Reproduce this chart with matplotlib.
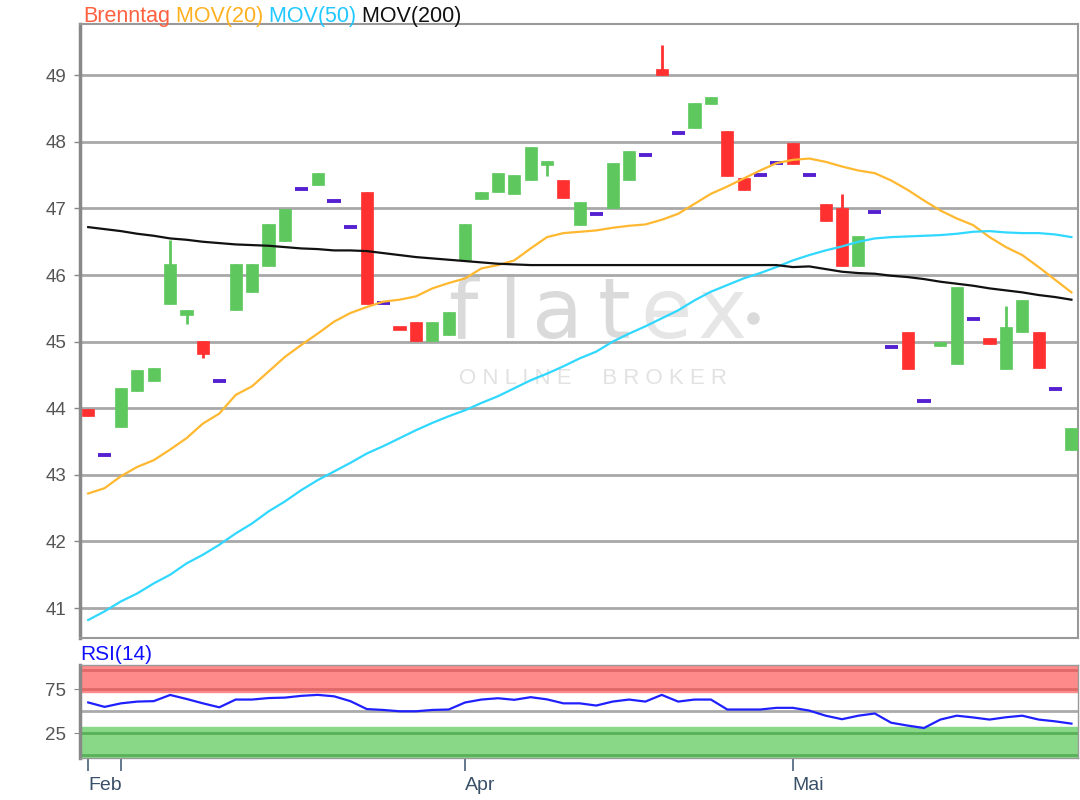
import matplotlib
matplotlib.use("Agg")
import matplotlib.pyplot as plt
import numpy as np

# ---------------- data ----------------
opens  = [43.99, 43.30, 43.72, 44.26, 44.41, 45.57, 45.40, 45.01, 44.41, 45.48,
          45.75, 46.14, 46.51, 47.29, 47.35, 47.11, 46.72, 47.24, 45.58, 45.22,
          45.29, 45.01, 45.10, 46.22, 47.14, 47.25, 47.22, 47.43, 47.69, 47.42,
          46.75, 46.91, 47.00, 47.43, 47.80, 49.10, 48.13, 48.21, 48.57, 48.17,
          47.45, 47.51, 47.68, 47.98, 47.51, 47.06, 47.00, 46.14, 46.94, 44.92,
          45.14, 44.11, 44.94, 44.67, 45.34, 45.05, 44.59, 45.15, 45.14, 44.29,
          43.38]
highs  = [43.99, 43.30, 44.30, 44.57, 44.60, 46.52, 45.47, 45.01, 44.41, 46.16,
          46.16, 46.76, 46.99, 47.29, 47.54, 47.11, 46.72, 47.24, 45.58, 45.22,
          45.29, 45.29, 45.44, 46.76, 47.24, 47.54, 47.51, 47.93, 47.72, 47.42,
          47.09, 46.91, 47.69, 47.87, 47.80, 49.46, 48.13, 48.59, 48.68, 48.17,
          47.45, 47.51, 47.68, 47.98, 47.51, 47.06, 47.21, 46.58, 46.94, 44.92,
          45.14, 44.11, 45.00, 45.82, 45.34, 45.05, 45.53, 45.62, 45.14, 44.29,
          43.70]
lows   = [43.89, 43.30, 43.72, 44.26, 44.41, 45.57, 45.27, 44.76, 44.41, 45.48,
          45.75, 46.14, 46.51, 47.29, 47.35, 47.11, 46.72, 45.57, 45.58, 45.20,
          45.01, 45.01, 45.10, 46.22, 47.14, 47.25, 47.22, 47.43, 47.49, 47.16,
          46.75, 46.91, 47.00, 47.43, 47.80, 49.00, 48.13, 48.21, 48.57, 47.49,
          47.28, 47.51, 47.68, 47.67, 47.51, 46.81, 46.14, 46.14, 46.94, 44.92,
          44.59, 44.11, 44.94, 44.67, 45.34, 44.97, 44.59, 45.15, 44.61, 44.29,
          43.38]
closes = [43.89, 43.30, 44.30, 44.57, 44.60, 46.16, 45.47, 44.82, 44.41, 46.16,
          46.16, 46.76, 46.99, 47.29, 47.54, 47.11, 46.72, 45.57, 45.58, 45.20,
          45.01, 45.29, 45.44, 46.76, 47.24, 47.54, 47.51, 47.93, 47.72, 47.16,
          47.09, 46.91, 47.69, 47.87, 47.80, 49.00, 48.13, 48.59, 48.68, 47.49,
          47.28, 47.51, 47.68, 47.67, 47.51, 46.81, 46.14, 46.58, 46.94, 44.92,
          44.59, 44.11, 45.00, 45.82, 45.34, 44.97, 45.22, 45.62, 44.61, 44.29,
          43.70]

mov20 = [42.72, 42.80, 42.98, 43.12, 43.22, 43.38, 43.55, 43.77, 43.92, 44.20,
         44.33, 44.55, 44.77, 44.95, 45.12, 45.30, 45.43, 45.52, 45.60, 45.63,
         45.68, 45.80, 45.88, 45.95, 46.10, 46.15, 46.22, 46.40, 46.57, 46.63,
         46.65, 46.67, 46.71, 46.74, 46.76, 46.83, 46.92, 47.07, 47.22, 47.33,
         47.45, 47.57, 47.68, 47.73, 47.75, 47.70, 47.63, 47.57, 47.53, 47.42,
         47.28, 47.12, 46.97, 46.85, 46.75, 46.57, 46.42, 46.30, 46.12, 45.93,
         45.74]
mov50 = [40.82, 40.95, 41.10, 41.22, 41.37, 41.50, 41.67, 41.80, 41.95, 42.12,
         42.27, 42.45, 42.60, 42.77, 42.92, 43.05, 43.18, 43.32, 43.43, 43.55,
         43.67, 43.78, 43.88, 43.97, 44.08, 44.18, 44.30, 44.42, 44.52, 44.63,
         44.75, 44.85, 45.00, 45.12, 45.23, 45.35, 45.47, 45.62, 45.75, 45.85,
         45.95, 46.03, 46.12, 46.22, 46.30, 46.37, 46.43, 46.50, 46.55, 46.57,
         46.58, 46.59, 46.60, 46.62, 46.65, 46.66, 46.64, 46.63, 46.63, 46.61,
         46.57]
mov200 = [46.72, 46.69, 46.66, 46.62, 46.59, 46.55, 46.53, 46.50, 46.48, 46.46,
          46.45, 46.44, 46.42, 46.40, 46.39, 46.37, 46.37, 46.36, 46.33, 46.30,
          46.27, 46.25, 46.23, 46.21, 46.19, 46.17, 46.16, 46.15, 46.15, 46.15,
          46.15, 46.15, 46.15, 46.15, 46.15, 46.15, 46.15, 46.15, 46.15, 46.15,
          46.15, 46.15, 46.15, 46.12, 46.13, 46.09, 46.05, 46.03, 46.02, 45.99,
          45.97, 45.94, 45.90, 45.87, 45.84, 45.80, 45.77, 45.74, 45.70, 45.67,
          45.63]
rsi = [60.0, 55.0, 59.0, 61.0, 61.5, 68.5, 64.0, 59.0, 54.5, 63.3,
       63.3, 65.0, 65.5, 67.5, 68.6, 67.0, 61.5, 52.5, 51.5, 50.0,
       50.0, 51.5, 52.0, 60.0, 63.3, 64.8, 63.0, 66.0, 63.5, 59.0,
       59.0, 56.5, 61.0, 63.3, 61.0, 68.6, 61.0, 63.3, 63.3, 52.0,
       52.0, 52.0, 53.9, 53.9, 50.8, 45.0, 41.0, 45.0, 47.5, 37.0,
       33.8, 31.0, 40.6, 45.0, 43.0, 40.6, 43.2, 45.0, 40.6, 38.6,
       36.0]

price_ticks = [41, 42, 43, 44, 45, 46, 47, 48, 49]
rsi_ticks = [25, 75]
month_tick_pos = [0, 2, 23, 43]
month_tick_labels = ["Feb", "", "Apr", "Mai"]

# ---------------- figure ----------------
plt.rcParams['font.family'] = ['Liberation Sans', 'DejaVu Sans']
fig = plt.figure(figsize=(10.8, 8.0), dpi=100)
fig.patch.set_facecolor('white')

ax = fig.add_axes([80/1080, 1-638/800, 998/1080, 614/800])
axr = fig.add_axes([80/1080, 1-758/800, 998/1080, 93/800])

n = len(opens)
x = np.arange(n)
GREEN = '#5ec85e'
RED = '#ff3030'
PURPLE = '#5520d0'
w = 0.74

for i in range(n):
    o, h, l, c = opens[i], highs[i], lows[i], closes[i]
    if o == h == l == c:
        ax.plot([i - 0.4, i + 0.4], [o, o], color=PURPLE, lw=2.8,
                solid_capstyle='butt', zorder=4)
        continue
    col = GREEN if c >= o else RED
    lo_b, hi_b = min(o, c), max(o, c)
    ax.plot([i, i], [l, h], color=col, lw=2, zorder=3, solid_capstyle='butt')
    ax.bar(i, max(hi_b - lo_b, 0.06), bottom=lo_b if hi_b - lo_b >= 0.06 else lo_b - 0.03,
           width=w, color=col, edgecolor=col, linewidth=0.5, zorder=4)

ax.plot(x, mov20, color='#ffb830', lw=1.6, zorder=5)
ax.plot(x, mov50, color='#30d8ff', lw=1.6, zorder=5)
ax.plot(x, mov200, color='#111111', lw=1.6, zorder=5)

ax.set_xlim(-0.5, 60.4)
ax.set_ylim(40.55, 49.77)
ax.set_yticks(price_ticks)
ax.set_yticklabels([str(t) for t in price_ticks])
for t in price_ticks:
    ax.axhline(t, color='#a8a8a8', lw=2, zorder=1)
ax.tick_params(axis='y', length=4, width=1, color='#888888', labelcolor='#555555',
               labelsize=13.5, pad=6)
ax.set_xticks([])
ax.spines['left'].set_color('#888888')
ax.spines['left'].set_linewidth(2.5)
for side in ['right', 'top', 'bottom']:
    ax.spines[side].set_color('#999999')
    ax.spines[side].set_linewidth(1.5)

# watermark (letters placed individually, pixel x -> axes fraction)
def ax_fx(px):
    return (px - 80) / 998

def ax_fy(py):
    return (638 - py) / 614

wm_letters = [("f", 463, '#dadada'), ("l", 510, '#dadada'), ("a", 558, '#dadada'),
              ("t", 614, '#dadada'), ("e", 666, '#e6e6e6'), ("x", 722, '#e6e6e6')]
for ch, px, colr in wm_letters:
    ax.text(ax_fx(px), ax_fy(338), ch, transform=ax.transAxes, ha='center',
            va='baseline', fontsize=60, color=colr, zorder=0.5,
            family=['DejaVu Sans'])
ax.plot([ax_fx(753)], [ax_fy(318)], marker='o', markersize=8, color='#dadada',
        transform=ax.transAxes, zorder=0.5)
ax.text(ax_fx(593), ax_fy(378), "O N L I N E     B R O K E R", transform=ax.transAxes,
        ha='center', va='center', fontsize=16, color='#e2e2e2', zorder=0.5)

# title
t1 = fig.text(83/1080, 1-27/800, "Brenntag", color='#ff6040', fontsize=15.5,
              ha='left', va='bottom')
prev = t1
for s, c in [(" MOV(20)", '#ffb020'), (" MOV(50)", '#20c8ff'), (" MOV(200)", '#111111')]:
    prev = ax.annotate(s, xy=(1, 0), xycoords=prev, ha='left', va='bottom',
                       color=c, fontsize=15.5, annotation_clip=False)

# ---------------- RSI ----------------
axr.set_xlim(-0.5, 60.4)
axr.set_ylim(-3, 102.5)
axr.axhspan(71.5, 102.5, color='#ff8a8a', zorder=0)
axr.axhspan(-3, 32.5, color='#88d888', zorder=0)
axr.axhline(97, color='#e06868', lw=2, zorder=1)
axr.axhline(75, color='#e06868', lw=2, zorder=1)
axr.axhline(25, color='#58b058', lw=2, zorder=1)
axr.axhline(0.5, color='#58b058', lw=2, zorder=1)
axr.axhline(50, color='#aaaaaa', lw=2, zorder=1)
axr.plot(x, rsi, color='#2020ff', lw=1.6, zorder=3)
axr.set_yticks(rsi_ticks)
axr.set_yticklabels([str(t) for t in rsi_ticks])
axr.tick_params(axis='y', length=4, color='#888888', labelcolor='#555555',
                labelsize=13.5, pad=6)
axr.set_xticks(month_tick_pos)
axr.set_xticklabels(month_tick_labels, ha='left')
axr.tick_params(axis='x', length=9, width=1.2, color='#4a6078', labelcolor='#3a5068',
                labelsize=14, pad=5)
axr.spines['left'].set_color('#888888')
axr.spines['left'].set_linewidth(2.5)
for side in ['right', 'top', 'bottom']:
    axr.spines[side].set_color('#999999')
    axr.spines[side].set_linewidth(1.0)
axr.text(0.0, 1.01, "RSI(14)", transform=axr.transAxes, ha='left', va='bottom',
         color='#1010ff', fontsize=15)

fig.savefig("out.png", dpi=100, facecolor='white')
